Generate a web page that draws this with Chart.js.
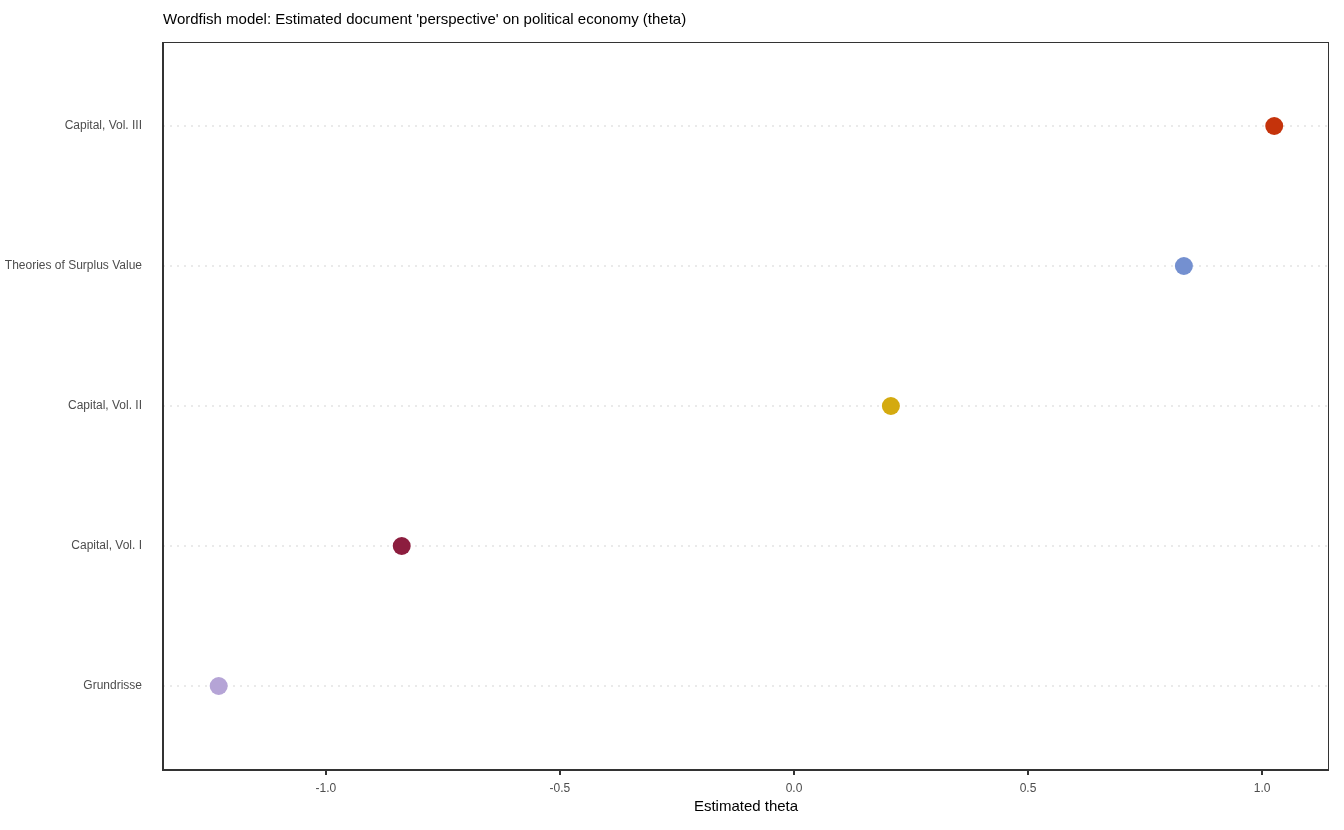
<!DOCTYPE html>
<html>
<head>
<meta charset="utf-8">
<script src="https://cdn.jsdelivr.net/npm/chart.js@4"></script>
<style>
  body { margin: 0; background: #fff; }
  #wrap { width: 1344px; height: 830px; }
</style>
</head>
<body>
<div id="wrap"><canvas id="wf"></canvas></div>
<script>
// Documents, bottom to top
const documents = ['Grundrisse', 'Capital, Vol. I', 'Capital, Vol. II', 'Theories of Surplus Value', 'Capital, Vol. III'];
const theta = [-1.229, -0.838, 0.207, 0.833, 1.026];
const dotColors = ['#b5a4d6', '#8c1d3e', '#d4aa0f', '#7490d0', '#c5330b'];
const xTicks = [-1.0, -0.5, 0.0, 0.5, 1.0];

const FONT = 'Liberation Sans, Arial, sans-serif';

// Title and panel frame
const framePlugin = {
    id: 'frame',
    afterDraw(chart) {
        const { ctx, chartArea: a } = chart;
        ctx.save();
        ctx.strokeStyle = '#333';
        ctx.lineWidth = 1;
        ctx.strokeRect(a.left + 0.5, a.top + 0.5, a.width - 1, a.height - 1);
        ctx.lineWidth = 2;
        ctx.beginPath();
        ctx.moveTo(a.left, a.top);
        ctx.lineTo(a.left, a.bottom);
        ctx.lineTo(a.right, a.bottom);
        ctx.stroke();
        ctx.fillStyle = '#000';
        ctx.font = '15px ' + FONT;
        ctx.textBaseline = 'middle';
        ctx.fillText("Wordfish model: Estimated document 'perspective' on political economy (theta)", a.left, 20);
        ctx.restore();
    }
};

// Dotted horizontal guides at each document
const dashGrid = {
    id: 'dashGrid',
    beforeDatasetsDraw(chart) {
        const { ctx, chartArea: a, scales } = chart;
        ctx.save();
        ctx.strokeStyle = '#e3e3e3';
        ctx.lineWidth = 1.5;
        ctx.setLineDash([2, 5]);
        documents.forEach((d, i) => {
            const y = scales.y.getPixelForValue(i);
            ctx.beginPath();
            ctx.moveTo(a.left, y);
            ctx.lineTo(a.right, y);
            ctx.stroke();
        });
        ctx.restore();
    }
};

new Chart(document.getElementById('wf'), {
    type: 'scatter',
    data: {
        datasets: [{
            data: theta.map((v, i) => ({ x: v, y: i })),
            pointBackgroundColor: dotColors,
            pointBorderWidth: 0,
            pointRadius: 9,
            pointHoverRadius: 9
        }]
    },
    options: {
        responsive: true,
        maintainAspectRatio: false,
        animation: false,
        layout: { padding: { top: 42, right: 15, left: 0, bottom: 0 } },
        plugins: { legend: { display: false }, tooltip: { enabled: false } },
        scales: {
            x: {
                type: 'linear',
                min: -1.348,
                max: 1.143,
                afterBuildTicks: (s) => { s.ticks = xTicks.map(v => ({ value: v })); },
                afterFit: (s) => { s.height = 60; },
                border: { display: false },
                grid: { drawOnChartArea: false, color: '#333', lineWidth: 2, tickLength: 5 },
                ticks: {
                    color: '#4d4d4d',
                    font: { family: FONT, size: 12 },
                    padding: 6,
                    maxRotation: 0,
                    callback: (v) => Number(v).toFixed(1)
                },
                title: {
                    display: true,
                    text: 'Estimated theta',
                    color: '#000',
                    font: { family: FONT, size: 15 },
                    padding: { top: 2, bottom: 14 }
                }
            },
            y: {
                type: 'linear',
                min: -0.6,
                max: 4.6,
                afterBuildTicks: (s) => { s.ticks = documents.map((d, i) => ({ value: i })); },
                afterFit: (s) => { s.width = 163; },
                border: { display: false },
                grid: { display: false },
                ticks: {
                    color: '#4d4d4d',
                    font: { family: FONT, size: 12 },
                    padding: 13,
                    callback: (v) => documents[v]
                }
            }
        }
    },
    plugins: [dashGrid, framePlugin]
});
</script>
</body>
</html>
